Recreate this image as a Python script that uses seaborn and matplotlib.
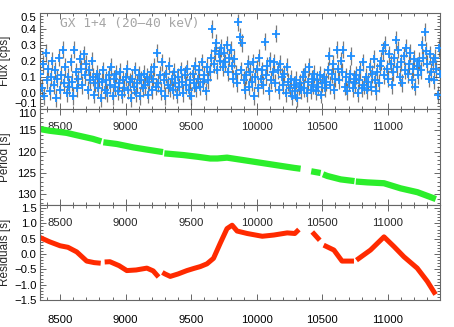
import numpy as np
import pandas as pd
import seaborn as sns
import matplotlib.pyplot as plt
from matplotlib.ticker import MultipleLocator

# top panel: 20-40 keV light curve, one bin every 10 d starting at 8350
flux_start = 8350
flux_step = 10
flux = [
    0.12, 0.03, 0.18, -0.02, 0.25, 0.08, 0.15, 0.01, 0.10, 0.20,   # 8350
    0.05, 0.14, -0.03, 0.09, 0.22, 0.02, 0.11, 0.27, 0.06, 0.16,   # 8450
    0.00, 0.10, 0.04, 0.19, 0.07, -0.02, 0.27, 0.13, 0.03, 0.09,   # 8550
    0.21, 0.15, 0.05, 0.24, 0.11, 0.18, 0.02, 0.14, 0.08, 0.20,    # 8650
    0.10, -0.01, 0.06, 0.12, 0.03, 0.09, -0.03, 0.07, 0.14, 0.02,  # 8750
    0.08, 0.00, 0.11, 0.05, 0.16, -0.02, 0.09, 0.04, 0.12, 0.01,   # 8850
    0.06, 0.13, -0.01, 0.08, 0.03, 0.10, 0.15, 0.02, 0.07, -0.03,  # 8950
    0.09, 0.04, 0.14, 0.00, 0.06, 0.11, -0.02, 0.08, 0.03, 0.12,   # 9050
    0.05, 0.10, -0.01, 0.07, 0.13, 0.02, 0.09, 0.16, 0.04, 0.25,   # 9150
    0.06, 0.11, 0.01, 0.19, 0.08, -0.02, 0.12, 0.05, 0.17, 0.03,   # 9250
    0.09, 0.02, 0.13, 0.06, -0.01, 0.10, 0.04, 0.14, 0.07, 0.00,   # 9350
    0.11, 0.05, 0.15, 0.02, 0.08, -0.02, 0.12, 0.06, 0.17, 0.03,   # 9450
    0.09, 0.14, 0.04, 0.19, 0.07, 0.11, 0.01, 0.16, 0.08, 0.13,    # 9550
    0.22, 0.40, 0.18, 0.26, 0.31, 0.14, 0.24, 0.20, 0.28, 0.16,    # 9650
    0.25, 0.19, 0.30, 0.13, 0.22, 0.27, 0.17, 0.09, 0.21, 0.12,    # 9750
    0.06, 0.44, 0.35, 0.14, 0.31, 0.08, 0.02, 0.11, 0.18, 0.04,    # 9850
    0.13, 0.07, 0.19, -0.02, 0.10, 0.15, 0.03, 0.22, 0.09, 0.14,   # 9950
    0.05, 0.32, 0.11, 0.17, 0.01, 0.20, 0.08, 0.13, 0.19, 0.06,    # 10050
    0.37, 0.14, 0.02, 0.18, 0.10, 0.05, 0.12, 0.00, 0.16, 0.07,    # 10150
    0.03, 0.09, -0.02, 0.05, 0.01, 0.08, -0.03, 0.04, 0.06, 0.02,  # 10250
    0.10, 0.03, 0.13, 0.00, 0.07, 0.16, 0.02, 0.09, 0.05, 0.12,    # 10350
    0.01, 0.08, 0.04, 0.11, -0.01, 0.06, 0.10, 0.03, 0.07, 0.14,   # 10450
    0.23, 0.05, 0.12, 0.18, 0.02, 0.09, 0.27, 0.15, 0.08, 0.20,    # 10550
    0.13, 0.27, 0.04, 0.10, 0.01, 0.07, 0.12, 0.23, 0.03, 0.09,    # 10650
    0.06, 0.11, 0.00, 0.08, 0.14, 0.03, 0.19, 0.05, 0.10, 0.02,    # 10750
    0.07, 0.16, 0.04, 0.12, 0.21, 0.08, 0.01, 0.13, 0.06, 0.17,    # 10850
    0.20, 0.26, 0.11, 0.30, 0.15, 0.09, 0.24, 0.18, 0.05, 0.13,    # 10950
    0.22, 0.33, 0.16, 0.27, 0.10, 0.19, 0.06, 0.23, 0.14, 0.28,    # 11050
    0.12, 0.18, 0.25, 0.08, 0.15, 0.21, 0.04, 0.17, 0.11, 0.20,    # 11150
    0.14, 0.30, 0.22, 0.38, 0.26, 0.18, 0.09, 0.24, 0.13, 0.19,    # 11250
    0.08, 0.22, 0.15, -0.01, 0.28, 0.12,                           # 11350
]
flux_err = 0.055

# middle panel: spin period, split where there are gaps in the data
period_day = [8347, 8420, 8500, 8551, 8620, 8678, 8750, 8815,
              8830, 8932, 9059, 9160, 9263, 9285,
              9295, 9441, 9550, 9645, 9700, 9773, 9902, 10029, 10156, 10284, 10334,
              10415, 10487,
              10505, 10538, 10640, 10745,
              10755, 10843, 10970, 11097, 11225, 11365]
period_s = [114.7, 115.1, 115.4, 115.6, 116.1, 116.5, 117.0, 117.6,
            117.8, 118.2, 119.0, 119.5, 120.0, 120.1,
            120.4, 120.8, 121.2, 121.6, 121.6, 121.4, 122.0, 122.6, 123.2, 123.8, 124.0,
            124.6, 125.0,
            125.3, 125.7, 126.5, 126.9,
            127.0, 127.2, 127.4, 128.6, 129.5, 131.1]
period_seg = [1] * 8 + [2] * 6 + [3] * 11 + [4] * 2 + [5] * 4 + [6] * 6

# bottom panel: period residuals
resid_day = [8347, 8420, 8500, 8560, 8627, 8703, 8760, 8810,
             8840, 8880, 8950, 9009, 9080, 9162, 9210, 9251,
             9280, 9300, 9340, 9400, 9467, 9520, 9569, 9620, 9645, 9670, 9721,
             9773, 9812, 9850, 9927, 10042, 10130, 10232, 10290, 10321,
             10423, 10480,
             10510, 10588, 10650, 10741,
             10760, 10867, 10970, 11047, 11122, 11223, 11300, 11363]
resid_s = [0.54, 0.40, 0.27, 0.22, 0.07, -0.23, -0.28, -0.30,
           -0.26, -0.25, -0.38, -0.54, -0.52, -0.46, -0.55, -0.75,
           -0.60, -0.65, -0.73, -0.65, -0.54, -0.47, -0.41, -0.32, -0.23, -0.14, 0.35,
           0.83, 0.94, 0.75, 0.67, 0.58, 0.62, 0.69, 0.67, 0.80,
           0.72, 0.45,
           0.29, 0.13, -0.23, -0.23,
           -0.20, 0.13, 0.56, 0.24, -0.09, -0.46, -0.89, -1.32]
resid_seg = [1] * 8 + [2] * 8 + [3] * 20 + [4] * 2 + [5] * 4 + [6] * 8

x_ticks = [8500, 9000, 9500, 10000, 10500, 11000]

BLUE = '#1e8fff'
GREEN = '#2bee2b'
RED = '#ff2a00'
AXC = '0.4'

sns.set_theme(style='ticks')
plt.rcParams['font.family'] = ['Liberation Sans', 'DejaVu Sans']
plt.rcParams['font.size'] = 8.2


def style_axis(ax, ymajor, yminor):
    ax.set_xlim(8347, 11397)
    ax.set_xticks(x_ticks)
    ax.xaxis.set_minor_locator(MultipleLocator(100))
    ax.yaxis.set_major_locator(MultipleLocator(ymajor))
    ax.yaxis.set_minor_locator(MultipleLocator(yminor))
    ax.tick_params(which='both', direction='in', top=True, right=True,
                   color=AXC, width=0.7, labelsize=8.2, labelcolor='black')
    ax.tick_params(which='major', length=4)
    ax.tick_params(which='minor', length=2)
    ax.tick_params(axis='y', pad=2.5)
    ax.tick_params(axis='x', labelbottom=False)
    for sp in ax.spines.values():
        sp.set_color(AXC)
        sp.set_linewidth(0.8)
    ax.set_xlabel('')


def inside_labels(ax):
    # x tick labels drawn inside the panel under its top edge
    sec = ax.secondary_xaxis('top')
    sec.set_xticks(x_ticks)
    sec.tick_params(length=0, pad=-16.5, labelsize=8.2)
    sec.spines['top'].set_visible(False)


def edge_label(ax, value, va):
    for tick in ax.yaxis.get_major_ticks():
        if abs(tick.get_loc() - value) < 1e-6:
            tick.label1.set_va(va)


fig = plt.figure(figsize=(4.54, 3.27), dpi=100)
left, width = 40 / 454, 400 / 454
ax1 = fig.add_axes([left, 1 - 109 / 327, width, 96.3 / 327])
ax2 = fig.add_axes([left, 1 - 205 / 327, width, 96 / 327])
ax3 = fig.add_axes([left, 1 - 300 / 327, width, 95 / 327])

# light curve
t = flux_start + flux_step * np.arange(len(flux))
lc = pd.DataFrame({'day': t, 'flux': flux})
ax1.errorbar(lc['day'], lc['flux'], yerr=flux_err, fmt='none',
             ecolor='0.3', elinewidth=0.9, alpha=0.75, zorder=2)
sns.scatterplot(data=lc, x='day', y='flux', marker='+', s=26, color=BLUE,
                linewidth=1.3, ax=ax1, zorder=3)
ax1.set_ylim(-0.1, 0.5)
style_axis(ax1, 0.1, 0.02)
ax1.set_ylabel('Flux [cps]', fontsize=8.5)
ax1.text(0.05, 0.885, 'GX 1+4 (20\u201340 keV)', transform=ax1.transAxes,
         fontsize=9.3, family='DejaVu Sans Mono', color='#a6a6a6', va='center')

# period
per = pd.DataFrame({'day': period_day, 'period': period_s, 'seg': period_seg})
sns.lineplot(data=per, x='day', y='period', units='seg', estimator=None,
             sort=False, color=GREEN, lw=4.5, solid_capstyle='butt', ax=ax2)
ax2.set_ylim(132.5, 110)
style_axis(ax2, 5, 1)
inside_labels(ax2)
ax2.set_ylabel('Period [s]', fontsize=8.5)

# residuals
res = pd.DataFrame({'day': resid_day, 'resid': resid_s, 'seg': resid_seg})
sns.lineplot(data=res, x='day', y='resid', units='seg', estimator=None,
             sort=False, color=RED, lw=3.6, solid_capstyle='butt', ax=ax3)
ax3.set_ylim(-1.5, 1.6)
style_axis(ax3, 0.5, 0.1)
ax3.tick_params(axis='x', labelbottom=True, pad=11)
inside_labels(ax3)
ax3.set_ylabel('Residuals [s]', fontsize=8.5)

for ax in (ax1, ax2, ax3):
    ax.yaxis.set_label_coords(-0.072, 0.5)

fig.canvas.draw()
# keep the edge labels inside their own panel
edge_label(ax1, -0.1, 'bottom')
edge_label(ax1, 0.5, 'top')
edge_label(ax2, 110, 'top')

fig.savefig('out.png', dpi=100)
